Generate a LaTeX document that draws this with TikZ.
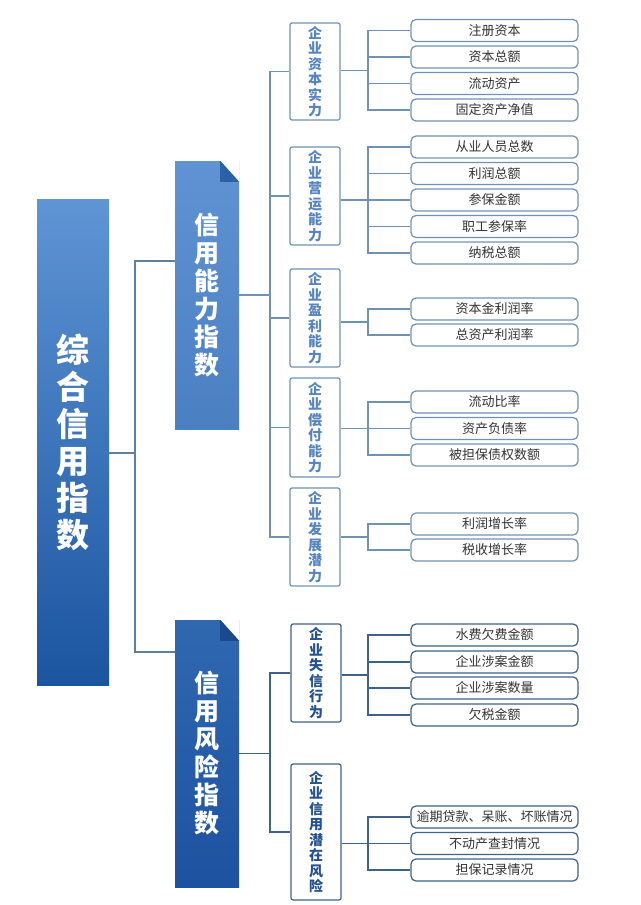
\documentclass[tikz,border=0pt]{standalone}
\usepackage{fontspec}
\setmainfont{Noto Sans CJK SC}
\usetikzlibrary{calc}
\definecolor{mainTop}{HTML}{5F95D5}
\definecolor{mainBot}{HTML}{1B55A0}
\definecolor{bAtop}{HTML}{5F93D3}
\definecolor{bAbot}{HTML}{4A7FC2}
\definecolor{bBtop}{HTML}{3068B0}
\definecolor{bBbot}{HTML}{1D52A0}
\definecolor{foldA}{HTML}{2A62A8}
\definecolor{foldB}{HTML}{1A4A8E}
\definecolor{lineA}{HTML}{6F92B3}
\definecolor{lineB}{HTML}{3E6289}
\definecolor{lineM}{HTML}{5F7F9E}
\definecolor{txtA}{HTML}{5584BE}
\definecolor{txtB}{HTML}{23508E}
\definecolor{leafTxt}{HTML}{333333}
\begin{document}
\begin{tikzpicture}[x=1pt,y=-1pt,
  conn/.style={line width=1.2pt,line join=miter},
  bigbox/.style={rectangle,inner sep=0pt,text=white,align=center,
    font=\bfseries\fontsize{33}{37}\selectfont},
  catbox/.style={rectangle,inner sep=0pt,text=white,align=center,
    minimum width=64pt,font=\bfseries\fontsize{25}{28}\selectfont},
  subbox/.style={rectangle,draw,line width=1.2pt,rounded corners=2pt,fill=white,
    inner sep=0pt,align=center,minimum width=50pt,
    font=\bfseries\fontsize{14}{15.5}\selectfont},
  leaf/.style={rectangle,draw,line width=1.2pt,rounded corners=5pt,fill=white,
    inner sep=0pt,minimum width=167pt,minimum height=22pt,text=leafTxt,
    font=\fontsize{13}{15}\selectfont}
]
\useasboundingbox (0,0) rectangle (640,905);
\fill[white] (0,0) rectangle (640,905);

% level 1
\node[bigbox,top color=mainTop,bottom color=mainBot,minimum width=72pt,minimum height=486pt]
  (main) at (73,442) {综\\合\\信\\用\\指\\数};

% level 2
\node[catbox,top color=bAtop,bottom color=bAbot,minimum height=268pt]
  (b1) at (207,295) {信\\用\\能\\力\\指\\数};
\fill[white] ([xshift=-19pt]b1.north east) -- (b1.north east) -- ([yshift=-21pt]b1.north east) -- cycle;
\fill[foldA] ([xshift=-19pt]b1.north east) -- ([xshift=-19pt,yshift=-21pt]b1.north east) -- ([yshift=-21pt]b1.north east) -- cycle;

\node[catbox,top color=bBtop,bottom color=bBbot,minimum height=267pt]
  (b2) at (207,753.5) {信\\用\\风\\险\\指\\数};
\fill[white] ([xshift=-19pt]b2.north east) -- (b2.north east) -- ([yshift=-21pt]b2.north east) -- cycle;
\fill[foldB] ([xshift=-19pt]b2.north east) -- ([xshift=-19pt,yshift=-21pt]b2.north east) -- ([yshift=-21pt]b2.north east) -- cycle;

% level 3
\begin{scope}[every node/.append style={draw=lineA,text=txtA}]
\node[subbox,minimum height=97pt] (A) at (315,71.5) {企\\业\\资\\本\\实\\力};
\node[subbox,minimum height=98pt] (B) at (315,196) {企\\业\\营\\运\\能\\力};
\node[subbox,minimum height=98pt] (C) at (315,318) {企\\业\\盈\\利\\能\\力};
\node[subbox,minimum height=99pt] (D) at (315,427.5) {企\\业\\偿\\付\\能\\力};
\node[subbox,minimum height=98pt] (E) at (315,537) {企\\业\\发\\展\\潜\\力};
\end{scope}
\begin{scope}[every node/.append style={draw=lineB,text=txtB}]
\node[subbox,minimum height=98pt] (F) at (316,673) {企\\业\\失\\信\\行\\为};
\node[subbox,minimum height=136pt] (G) at (316,832) {企\\业\\信\\用\\潜\\在\\风\\险};
\end{scope}

% leaves
\begin{scope}[every node/.append style={draw=lineA}]
\node[leaf] (a1) at (494.5,30.5) {注册资本};
\node[leaf] (a2) at (494.5,57) {资本总额};
\node[leaf] (a3) at (494.5,83.5) {流动资产};
\node[leaf] (a4) at (494.5,110) {固定资产净值};
\node[leaf] (e1) at (494.5,147) {从业人员总数};
\node[leaf] (e2) at (494.5,173.5) {利润总额};
\node[leaf] (e3) at (494.5,200) {参保金额};
\node[leaf] (e4) at (494.5,226.5) {职工参保率};
\node[leaf] (e5) at (494.5,253) {纳税总额};
\node[leaf] (c1) at (494.5,309) {资本金利润率};
\node[leaf] (c2) at (494.5,335) {总资产利润率};
\node[leaf] (d1) at (494.5,402) {流动比率};
\node[leaf] (d2) at (494.5,428.5) {资产负债率};
\node[leaf] (d3) at (494.5,455) {被担保债权数额};
\node[leaf] (p1) at (494.5,524) {利润增长率};
\node[leaf] (p2) at (494.5,550) {税收增长率};
\end{scope}
\begin{scope}[every node/.append style={draw=lineB}]
\node[leaf] (f1) at (494.5,635) {水费欠费金额};
\node[leaf] (f2) at (494.5,662) {企业涉案金额};
\node[leaf] (f3) at (494.5,688) {企业涉案数量};
\node[leaf] (f4) at (494.5,715) {欠税金额};
\node[leaf] (g1) at (494.5,817) {逾期贷款、呆账、坏账情况};
\node[leaf] (g2) at (494.5,843.5) {不动产查封情况};
\node[leaf] (g3) at (494.5,870) {担保记录情况};
\end{scope}

% buses
\coordinate (jm) at (135,453);
\coordinate (j1) at (135,261);
\coordinate (j2) at (135,652);
\coordinate (bus1) at (270,0);
\coordinate (bus2) at (368,0);

% level 1 -> 2
\draw[conn,lineM] (main.east |- jm) -- (jm);
\draw[conn,lineM] (b1.west |- j1) -- (j1) -- (j2) -- (b2.west |- j2);

% level 2 -> 3
\draw[conn,lineA] (b1.east) -- (b1.east -| bus1);
\draw[conn,lineA] (A.west) -- (A.west -| bus1) -- (E.west -| bus1) -- (E.west);
\foreach \n in {B,C,D} { \draw[conn,lineA] (\n.west -| bus1) -- (\n.west); }
\draw[conn,lineB] (b2.east) -- (b2.east -| bus1);
\draw[conn,lineB] (F.west) -- (F.west -| bus1) -- (G.west -| bus1) -- (G.west);

% level 3 -> leaves
\foreach \b/\f/\l/\lst/\c in {A/a1/a4/{a2,a3}/lineA, B/e1/e5/{e2,e3,e4}/lineA,
    C/c1/c2/{}/lineA, D/d1/d3/{d2}/lineA, E/p1/p2/{}/lineA,
    F/f1/f4/{f2,f3}/lineB, G/g1/g3/{g2}/lineB} {
  \path ($(\f.west)!.5!(\l.west)$) coordinate (mid);
  \draw[conn,draw=\c] (\b.east |- mid) -- (mid -| bus2);
  \draw[conn,draw=\c] (\f.west) -- (\f.west -| bus2) -- (\l.west -| bus2) -- (\l.west);
  \foreach \n in \lst { \draw[conn,draw=\c] (\n.west -| bus2) -- (\n.west); }
}
\end{tikzpicture}
\end{document}
